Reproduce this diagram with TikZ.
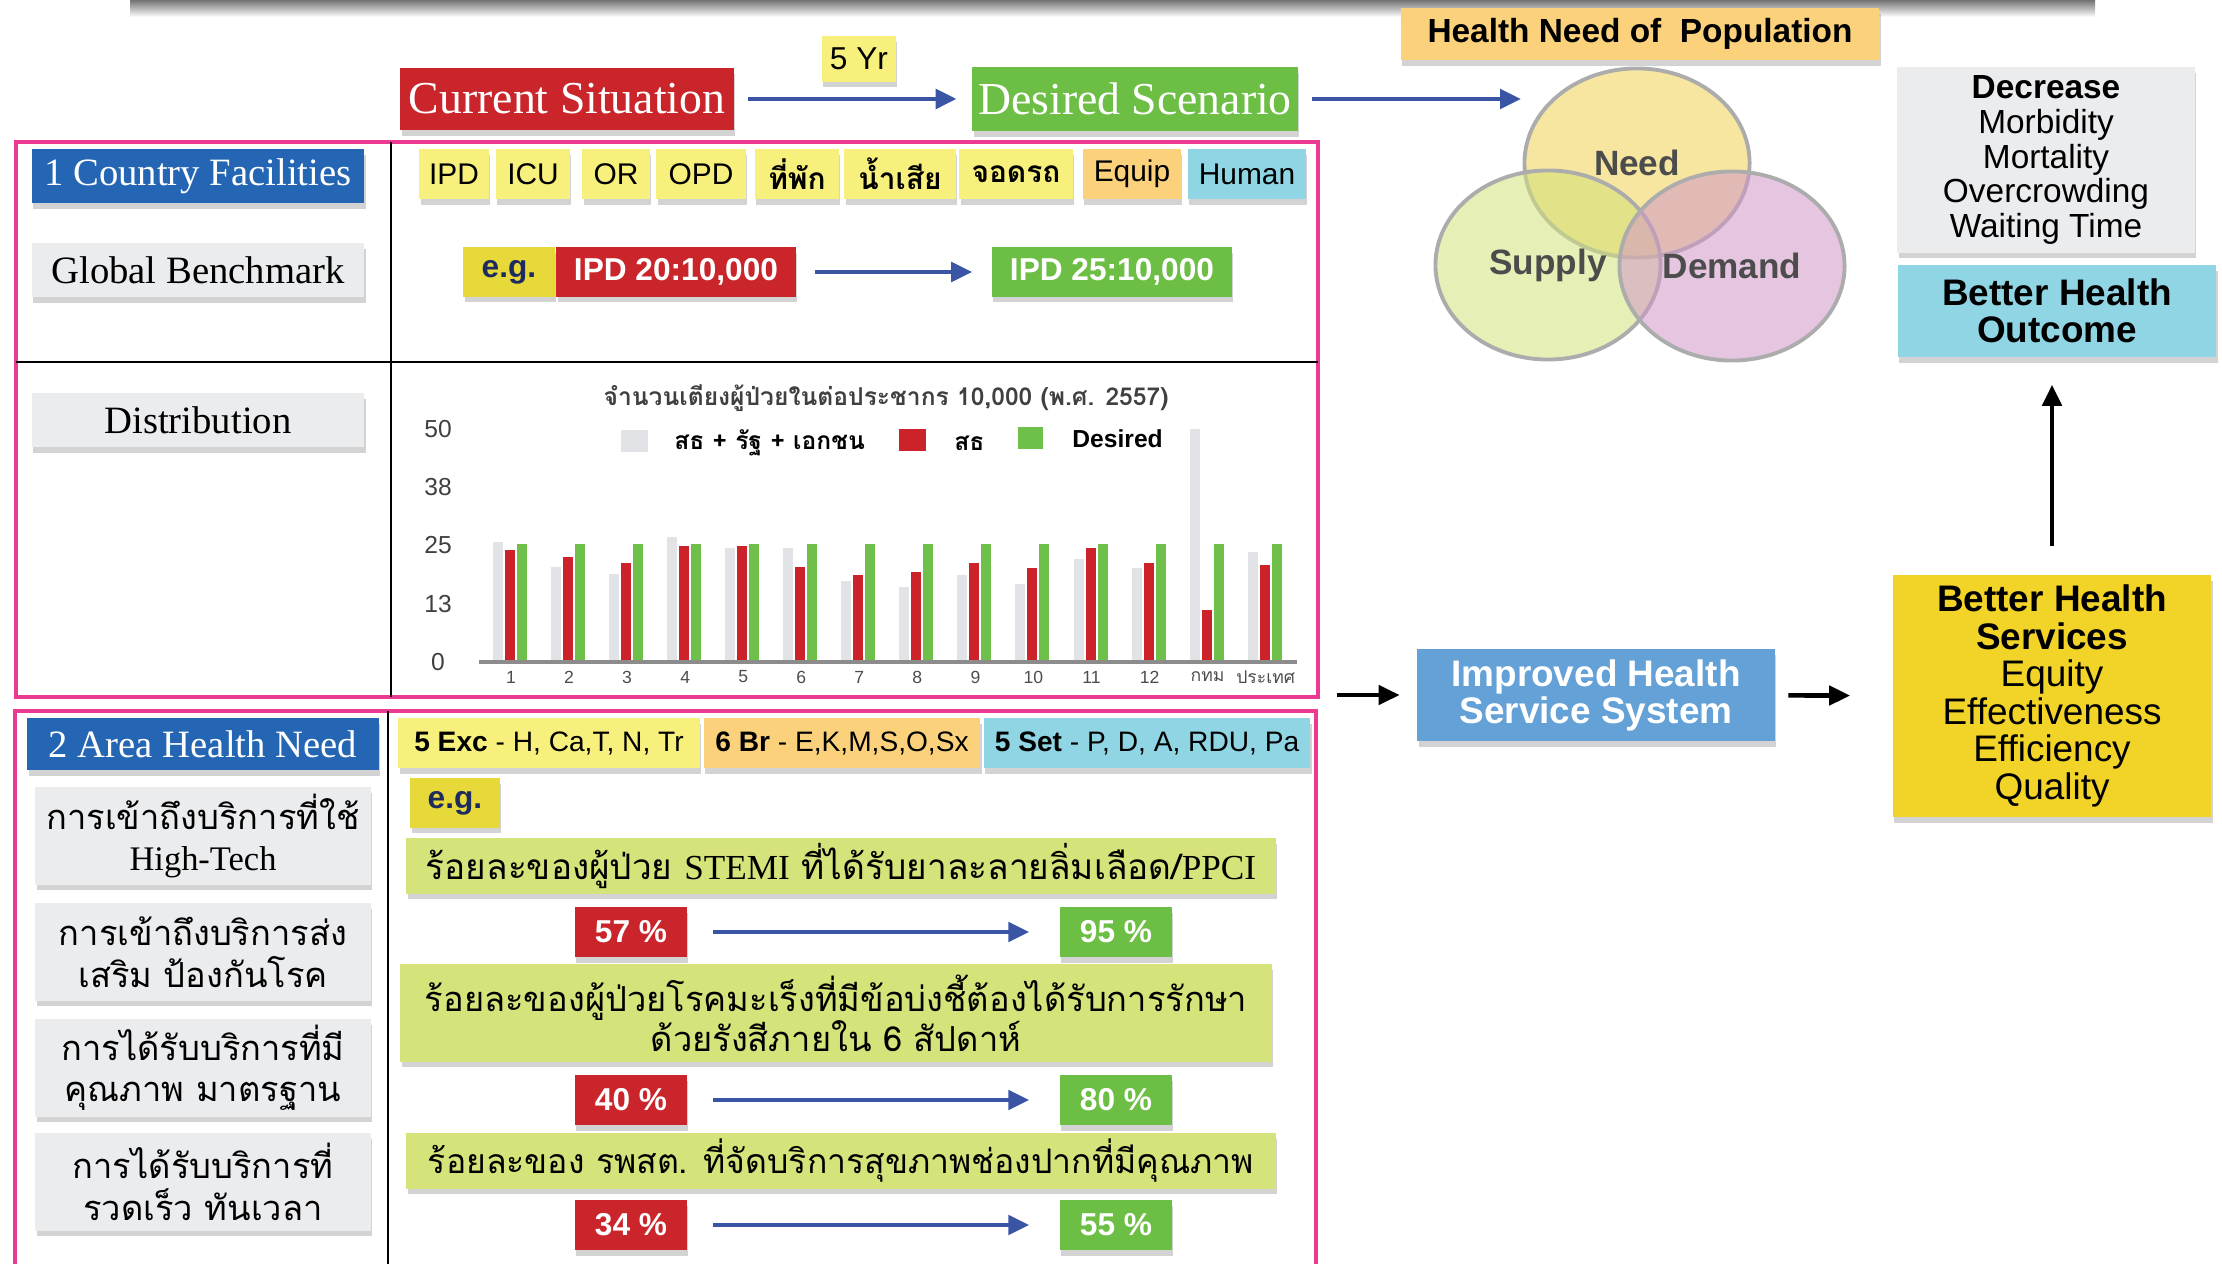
\documentclass[tikz,border=0pt]{standalone}
\usepackage{fontspec}
\setmainfont{Liberation Serif}
\setsansfont{Liberation Sans}
\newfontfamily\thaifont[Script=Thai]{Loma}
\usepackage{xcolor}
\usepackage{tikz}
\usetikzlibrary{arrows.meta, shapes.geometric, shadows}

\definecolor{boxred}{HTML}{C9252B}
\definecolor{boxgreen}{HTML}{6DBE45}
\definecolor{boxblue}{HTML}{2466B3}
\definecolor{flowblue}{HTML}{3B55A5}
\definecolor{tagyellow}{HTML}{F8F07C}
\definecolor{egyellow}{HTML}{E8D93B}
\definecolor{egtext}{HTML}{1E2B5E}
\definecolor{tagorange}{HTML}{FBD27B}
\definecolor{tagcyan}{HTML}{8FD5E4}
\definecolor{softgray}{HTML}{EBECEE}
\definecolor{framepink}{HTML}{EC3A92}
\definecolor{banner}{HTML}{D6E27A}
\definecolor{sysblue}{HTML}{64A1D7}
\definecolor{servyellow}{HTML}{F2D327}
\definecolor{barred}{HTML}{CC2229}
\definecolor{bargreen}{HTML}{6EC04A}
\definecolor{bargray}{HTML}{E2E3E6}
\definecolor{needfill}{HTML}{F0D250}
\definecolor{supplyfill}{HTML}{D2E178}
\definecolor{demandfill}{HTML}{D296C8}

\begin{document}
\begin{tikzpicture}[x=0.01cm, y=-0.01cm, >={Triangle[length=0.21cm, width=0.19cm]},
    card/.style={inner sep=0pt, align=center, drop shadow={shadow xshift=0.4pt, shadow yshift=-1.6pt, opacity=0.35}},
    headbox/.style={card, text=white, font=\fontsize{13}{15}\selectfont},
    rowbox/.style={card, minimum width=3.32cm, minimum height=0.54cm, font=\fontsize{11}{13}\selectfont},
    tagbox/.style={card, minimum height=0.5cm, font=\sffamily\fontsize{8.5}{10}\selectfont},
    valbox/.style={card, text=white, font=\sffamily\bfseries\fontsize{9}{11}\selectfont},
    egbox/.style={card, fill=egyellow, text=egtext, font=\sffamily\bfseries\fontsize{9}{11}\selectfont},
    quest/.style={card, fill=softgray, minimum width=3.35cm, minimum height=0.97cm, font=\thaifont\fontsize{9.8}{11.8}\selectfont},
    kpi/.style={card, fill=banner, minimum width=8.69cm, font=\thaifont\fontsize{10}{11.4}\selectfont},
    goal/.style={card, font=\sffamily\fontsize{10.5}{10.7}\selectfont},
    venn/.style={ellipse, draw=gray!65, line width=1.1pt, fill opacity=0.55, text opacity=1, text=black!70,
        inner sep=0pt, minimum width=2.25cm, minimum height=1.89cm, font=\sffamily\bfseries\fontsize{10}{12}\selectfont},
    flow/.style={->, draw=flowblue, line width=1.4pt},
    push/.style={->, line width=1.3pt}]
    \useasboundingbox (0,0) rectangle (2222,1264);

    % 1. Shadow strip along the top
    \shade[top color=black!55, bottom color=white] (130,0) rectangle (2095,17);

    % 2. Current -> desired -> health need
    \node[headbox, fill=boxred, minimum width=3.33cm, minimum height=0.62cm] (current) at (567,99) {Current Situation};
    \node[headbox, fill=boxgreen, minimum width=3.25cm, minimum height=0.64cm] (desired) at (1135,99) {Desired Scenario};
    \node[tagbox, fill=tagyellow, minimum width=0.74cm, minimum height=0.45cm, font=\sffamily\fontsize{9}{11}\selectfont] (years) at (859,59) {5 Yr};
    \node[card, fill=tagorange, minimum width=4.78cm, minimum height=0.52cm, font=\sffamily\bfseries\fontsize{9.5}{11}\selectfont] (population) at (1640,34) {Health Need of\ \ Population};
    \coordinate (vennin) at (1521,99);
    \draw[flow, shorten <=0.14cm, shorten >=0.15cm] (current.east) -- (current.east -| desired.west);
    \draw[flow, shorten <=0.14cm] (desired.east) -- (vennin);

    % 3. Need, supply and demand
    \node[venn, fill=needfill] (need) at (1637,163) {Need};
    \node[venn, fill=supplyfill] (supply) at (1548,265) {Supply};
    \node[venn, fill=demandfill] (demand) at (1732,266) {Demand};

    % 4. System and outcome
    \node[goal, fill=softgray, minimum width=2.97cm, minimum height=1.85cm, font=\sffamily\fontsize{9.5}{9.9}\selectfont] (decrease) at (2046,160)
        {\textbf{Decrease}\\Morbidity\\Mortality\\Overcrowding\\Waiting Time};
    \node[goal, fill=tagcyan, minimum width=3.18cm, minimum height=0.92cm, font=\sffamily\bfseries\fontsize{10.5}{10.5}\selectfont] (outcome) at (2057,311) {Better Health\\Outcome};
    \node[goal, fill=sysblue, text=white, minimum width=3.57cm, minimum height=0.92cm, font=\sffamily\bfseries\fontsize{10.5}{10.5}\selectfont] (system) at (1596,695) {Improved Health\\Service System};
    \node[goal, fill=servyellow, minimum width=3.18cm, minimum height=2.42cm] (services) at (2052,696)
        {\textbf{Better Health}\\\textbf{Services}\\Equity\\Effectiveness\\Efficiency\\Quality};
    \coordinate (sysin) at (1337,695);
    \draw[push, shorten >=0.17cm] (sysin) -- (system.west);
    \draw[push, shorten <=0.13cm, shorten >=0.42cm] (system) -- (services);
    \draw[push, shorten <=0.28cm, shorten >=0.27cm] (services.north) -- (services.north |- outcome.south);

    % 5. Pink frames and dividers
    \draw[framepink, line width=1.2pt] (16,142) rectangle (1318,697);
    \draw[line width=0.6pt] (391,142) -- (391,697);
    \draw[line width=0.8pt] (16,362) -- (1318,362);
    \draw[framepink, line width=1.2pt] (15,1264) -- (15,711) -- (1316,711) -- (1316,1264);
    \draw[line width=0.6pt] (388,711) -- (388,1264);

    % 6. Country facilities
    \node[rowbox, fill=boxblue, text=white] (facilities) at (198,176) {1 Country Facilities};
    \foreach \x/\w/\c/\t [count=\i] in {454/0.69/tagyellow/IPD, 533/0.74/tagyellow/ICU, 616/0.67/tagyellow/OR,
            701/0.89/tagyellow/OPD, 797/0.84/tagyellow/{\thaifont\bfseries ที่พัก}, 900/1.11/tagyellow/{\thaifont\bfseries น้ำเสีย},
            1016/1.13/tagyellow/{\thaifont\bfseries จอดรถ}, 1132/0.98/tagorange/Equip, 1247/1.18/tagcyan/Human}
        \node[tagbox, fill=\c, minimum width=\w cm] (tag\i) at (\x,174) {\t};

    \node[rowbox, fill=softgray] (benchmark) at (198,270) {Global Benchmark};
    \node[egbox, minimum width=0.91cm, minimum height=0.49cm] (egipd) at (509,272) {e.g.};
    \node[valbox, fill=boxred, minimum width=2.39cm, minimum height=0.49cm] (ipdnow) at (676,272) {IPD 20:10,000};
    \node[valbox, fill=boxgreen, minimum width=2.40cm, minimum height=0.49cm] (ipdgoal) at (1112,272) {IPD 25:10,000};
    \draw[flow, shorten <=0.19cm, shorten >=0.19cm] (ipdnow) -- (ipdgoal);

    % 7. Beds per 10,000 population
    \node[rowbox, fill=softgray] (distribution) at (198,420) {Distribution};
    \node[font=\thaifont\bfseries\fontsize{7}{9}\selectfont, text=black!75] (charttitle) at (886,398) {จำนวนเตียงผู้ป่วยในต่อประชากร 10,000 (พ.ศ. 2557)};
    \foreach \v/\p in {0/0, 13/12.5, 25/25, 38/37.5, 50/50}
        \node[font=\sffamily\fontsize{7}{8}\selectfont, text=black!75] (tick\v) at (438,{662-\p*4.66}) {\v};
    \foreach \g/\r/\n [count=\i] in {25.8/24.0/1, 20.4/22.5/2, 18.8/21.2/3, 26.8/24.8/4, 24.5/24.8/5, 24.5/20.4/6, 17.3/18.6/7,
            16.0/19.4/8, 18.6/21.2/9, 16.8/20.2/10, 22.2/24.5/11, 20.2/21.2/12, 49.9/11.1/{\thaifont กทม}, 23.7/20.9/{\thaifont ประเทศ}} {
        \pgfmathsetmacro{\cx}{511+58.05*(\i-1)}
        \fill[bargray] (\cx-18,662) rectangle (\cx-8,{662-\g*4.66});
        \fill[barred] (\cx-6,662) rectangle (\cx+4,{662-\r*4.66});
        \fill[bargreen] (\cx+6,662) rectangle (\cx+16,{662-25.3*4.66});
        \node[font=\sffamily\fontsize{5}{6}\selectfont, text=black!70] (bar\i) at (\cx,677) {\n};
    }
    \draw[black!45, line width=0.9pt] (479,662) -- (1297,662);
    \fill[bargray] (621,430) rectangle (648,452);
    \node[anchor=west, font=\thaifont\bfseries\fontsize{7}{8}\selectfont] (legall) at (662,443) {สธ + รัฐ + เอกชน};
    \fill[barred] (899,429) rectangle (926,451);
    \node[anchor=west, font=\thaifont\bfseries\fontsize{7}{8}\selectfont] (legmoph) at (942,443) {สธ};
    \fill[bargreen] (1018,427) rectangle (1043,449);
    \node[anchor=west, font=\sffamily\bfseries\fontsize{7}{8}\selectfont] (legdesired) at (1060,439) {Desired};

    % 8. Area health need
    \node[rowbox, fill=boxblue, text=white, minimum width=3.51cm, minimum height=0.52cm] (area) at (203,744) {2 Area Health Need};
    \node[tagbox, fill=tagyellow, minimum width=3.01cm, font=\sffamily\fontsize{8}{10}\selectfont] (excel) at (549,743) {\textbf{5 Exc} - H, Ca,T, N, Tr};
    \node[tagbox, fill=tagorange, minimum width=2.76cm, font=\sffamily\fontsize{8}{10}\selectfont] (branch) at (842,743) {\textbf{6 Br} - E,K,M,S,O,Sx};
    \node[tagbox, fill=tagcyan, minimum width=3.26cm, font=\sffamily\fontsize{8}{10}\selectfont] (settings) at (1147,743) {\textbf{5 Set} - P, D, A, RDU, Pa};

    \node[quest] (access) at (203,836) {การเข้าถึงบริการที่ใช้\\{\rmfamily High-Tech}};
    \node[quest] (prevent) at (203,952) {การเข้าถึงบริการส่ง\\เสริม ป้องกันโรค};
    \node[quest] (quality) at (203,1068) {การได้รับบริการที่มี\\คุณภาพ มาตรฐาน};
    \node[quest] (timely) at (203,1182) {การได้รับบริการที่\\รวดเร็ว ทันเวลา};

    \node[egbox, minimum width=0.89cm, minimum height=0.49cm] (egarea) at (455,803) {e.g.};
    \node[kpi, minimum height=0.55cm] (stemi) at (841,866) {ร้อยละของผู้ป่วย {\rmfamily STEMI} ที่ได้รับยาละลายลิ่มเลือด/{\rmfamily PPCI}};
    \node[kpi, minimum width=8.71cm, minimum height=0.97cm, font=\thaifont\fontsize{9.8}{11.4}\selectfont] (cancer) at (836,1013) {ร้อยละของผู้ป่วยโรคมะเร็งที่มีข้อบ่งชี้ต้องได้รับการรักษา\\ด้วยรังสีภายใน 6 สัปดาห์};
    \node[kpi, minimum height=0.55cm, font=\thaifont\fontsize{9.6}{11}\selectfont] (oral) at (841,1161) {ร้อยละของ รพสต. ที่จัดบริการสุขภาพช่องปากที่มีคุณภาพ};
    \foreach \y/\a/\b [count=\i] in {932/57/95, 1100/40/80, 1225/34/55} {
        \node[valbox, fill=boxred, minimum width=1.12cm, minimum height=0.5cm] (now\i) at (631,\y) {\a\ \%};
        \node[valbox, fill=boxgreen, minimum width=1.12cm, minimum height=0.5cm] (goal\i) at (1116,\y) {\b\ \%};
        \draw[flow, shorten <=0.25cm, shorten >=0.3cm] (now\i) -- (goal\i);
    }
\end{tikzpicture}
\end{document}
